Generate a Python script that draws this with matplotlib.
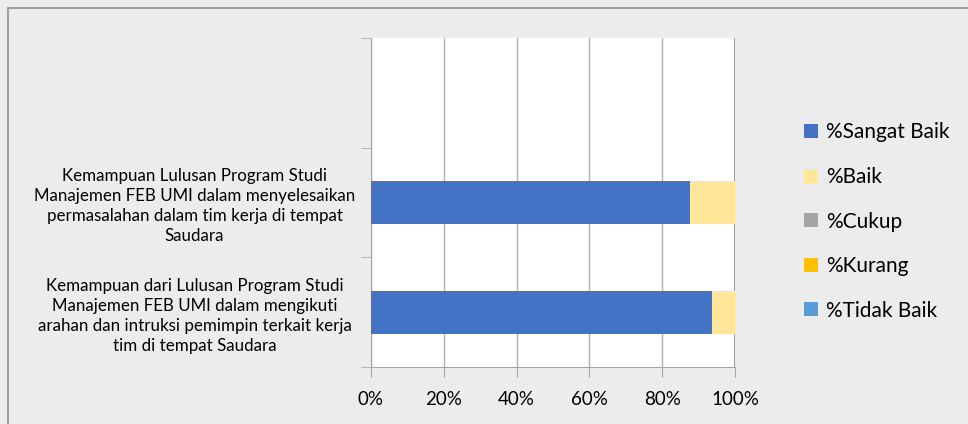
import numpy as np
import matplotlib.pyplot as plt
from matplotlib.patches import Patch

plt.rcParams['font.family'] = ['Lato', 'DejaVu Sans']

# kategori dari bawah ke atas
categories = [
    'Kemampuan dari Lulusan Program Studi\nManajemen FEB UMI dalam mengikuti\narahan dan intruksi pemimpin terkait kerja\ntim di tempat Saudara',
    'Kemampuan Lulusan Program Studi\nManajemen FEB UMI dalam menyelesaikan\npermasalahan dalam tim kerja di tempat\nSaudara',
    '',
]
series_names = ['%Sangat Baik', '%Baik', '%Cukup', '%Kurang', '%Tidak Baik']
sangat_baik = [93.75, 87.5, 0]
baik = [6.25, 12.5, 0]
cukup = [0, 0, 0]
kurang = [0, 0, 0]
tidak_baik = [0, 0, 0]
xticks = [0, 20, 40, 60, 80, 100]
xtick_labels = ['0%', '20%', '40%', '60%', '80%', '100%']

colors = ['#4472c4', '#ffe699', '#a5a5a5', '#ffc000', '#5b9bd5']
bg = '#ececec'

fig = plt.figure(figsize=(9.68, 4.24), dpi=100, facecolor=bg)
ax = fig.add_axes([371/968, 1 - 367/424, 364/968, 329/424])
ax.set_facecolor('white')

y = np.arange(len(categories))
left = np.zeros(len(categories))
for name, vals, c in zip(series_names, [sangat_baik, baik, cukup, kurang, tidak_baik], colors):
    vals = np.array(vals, dtype=float)
    ax.barh(y, vals, left=left, height=0.39, color=c, zorder=3)
    left += vals

ax.set_xlim(0, 100)
ax.set_ylim(-0.5, len(categories) - 0.5)
ax.set_xticks(xticks)
ax.set_xticklabels(xtick_labels, fontsize=13.5)
ax.set_yticks(y)
ax.set_yticklabels(categories, fontsize=12.2, ha='center', linespacing=1.32)
ax.tick_params(axis='y', which='major', length=0, pad=127)
ax.set_yticks(np.arange(len(categories) + 1) - 0.5, minor=True)
ax.tick_params(axis='y', which='minor', length=7, color='#a6a6a6', direction='out')
ax.tick_params(axis='x', length=7, color='#a6a6a6', direction='out', pad=10)
ax.grid(axis='x', color='#b0b0b0', linewidth=1, zorder=0)
for s in ['top', 'right']:
    ax.spines[s].set_visible(False)
ax.spines['left'].set_color('#a6a6a6')
ax.spines['bottom'].set_color('#a6a6a6')
ax.axvline(100, color='#8c8c8c', linewidth=1.2, zorder=2)

handles = [Patch(facecolor=c, edgecolor='none') for c in colors]
fig.legend(handles, series_names, loc='upper left', bbox_to_anchor=(796/968, 1 - 114/424),
           frameon=False, fontsize=15, handlelength=0.65, handleheight=0.65,
           handletextpad=0.4, labelspacing=1.18, borderaxespad=0)

# garis bingkai kiri dan atas
fig.add_artist(plt.Line2D([7.5/968, 7.5/968], [0, 1 - 8/424], color='#a0a0a0', lw=1.5))
fig.add_artist(plt.Line2D([7.5/968, 1], [1 - 8/424, 1 - 8/424], color='#a0a0a0', lw=1.5))

fig.savefig('out.png', dpi=100, facecolor=bg)
